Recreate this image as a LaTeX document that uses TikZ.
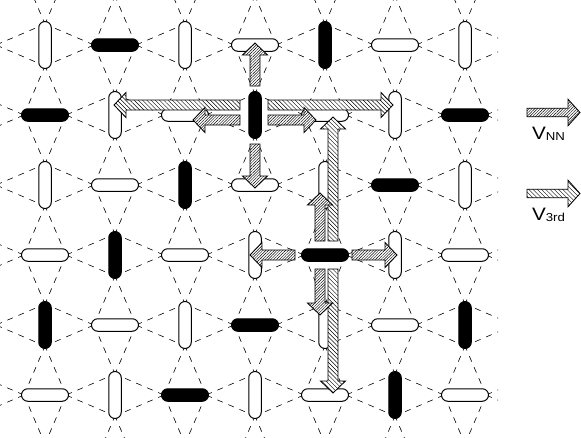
\documentclass[tikz,border=0pt]{standalone}
\usepackage{fontspec}
\setmainfont{Liberation Sans}
\usetikzlibrary{calc,patterns.meta}
\tikzset{
  lat/.style={dash pattern=on 6pt off 6pt, dash phase=1pt, line width=0.6pt, black},
  dimer/.style={draw, line width=1pt, inner sep=0pt, rounded corners=6.25pt},
  nnarrow/.style={preaction={fill=white}, draw, line width=0.85pt,
    pattern={Lines[angle=45,distance=2pt,line width=0.45pt]}},
  tdarrow/.style={preaction={fill=white}, draw, line width=0.85pt,
    pattern={Lines[angle=-45,distance=3pt,line width=0.45pt]}},
  lbl/.style={inner sep=0pt, anchor=base}
}
% #1 style, #2 start, #3 tip, #4 shaft half width, #5 head half width
\newcommand\blockarrow[5]{%
  \coordinate (bah) at ($(#3)!12pt!(#2)$);
  \path[#1] ($(#2)!#4!90:(#3)$) -- ($(bah)!#4!-90:(#2)$) -- ($(bah)!#5!-90:(#2)$)
    -- (#3) -- ($(bah)!#5!90:(#2)$) -- ($(bah)!#4!90:(#2)$) -- ($(#2)!#4!-90:(#3)$) -- cycle;
}
\begin{document}
\begin{tikzpicture}[x=1pt,y=-1pt]
\useasboundingbox (0,0) rectangle (581,437);
% sites (ends of dimers)
\foreach \r in {-1,...,8}{
  \foreach \c in {-1,...,9}{
    \pgfmathtruncatemacro\dpar{mod(\r+\c+4,2)}
    \pgfmathsetmacro\px{70*\c-25}
    \pgfmathsetmacro\py{70*\r-25}
    \ifnum\dpar=0
      \coordinate (s-\r-\c-a) at (\px,\py-21);
      \coordinate (s-\r-\c-b) at (\px,\py+21);
    \else
      \coordinate (s-\r-\c-a) at (\px-21,\py);
      \coordinate (s-\r-\c-b) at (\px+21,\py);
    \fi
  }}
% dashed lattice
\begin{scope}
\clip (0,0) rectangle (498,437);
\foreach \r in {0,...,7}{
  \foreach \c in {0,...,8}{
    \pgfmathtruncatemacro\dpar{mod(\r+\c,2)}
    \ifnum\dpar=0
      \pgfmathtruncatemacro\rU{\r-1}
      \pgfmathtruncatemacro\rD{\r+1}
      \pgfmathtruncatemacro\cL{\c-1}
      \pgfmathtruncatemacro\cR{\c+1}
      \draw[lat] (s-\r-\c-a) -- (s-\rU-\c-a) (s-\r-\c-a) -- (s-\rU-\c-b)
                 (s-\r-\c-a) -- (s-\r-\cL-b) (s-\r-\c-a) -- (s-\r-\cR-a)
                 (s-\r-\c-b) -- (s-\rD-\c-a) (s-\r-\c-b) -- (s-\rD-\c-b)
                 (s-\r-\c-b) -- (s-\r-\cL-b) (s-\r-\c-b) -- (s-\r-\cR-a);
    \fi
  }}
\end{scope}
% dimers
\foreach \r in {1,...,6}{
  \foreach \c in {1,...,7}{
    \pgfmathtruncatemacro\dpar{mod(\r+\c,2)}
    \pgfmathtruncatemacro\dblk{mod(\r+\c,3)}
    \ifnum\dpar=0 \def\dw{12.5pt}\def\dh{47pt}\else\def\dw{47pt}\def\dh{12.5pt}\fi
    \ifnum\dblk=0 \def\dfl{black}\else\def\dfl{white}\fi
    \node[dimer, minimum width=\dw, minimum height=\dh, fill=\dfl] (d-\r-\c) at (70*\c-25,70*\r-25) {};
  }}
% arrow end points
\coordinate (a3l-s) at (240,105); \coordinate (a3l-e) at (114,105);
\coordinate (a3r-s) at (268,105); \coordinate (a3r-e) at (393,105);
\coordinate (anl-s) at (240,120); \coordinate (anl-e) at (193,120);
\coordinate (anr-s) at (268,120); \coordinate (anr-e) at (316,120);
\coordinate (anu-s) at (255,86);  \coordinate (anu-e) at (255,43);
\coordinate (and-s) at (255,144); \coordinate (and-e) at (255,188);
\coordinate (b3u-s) at (333,241); \coordinate (b3u-e) at (333,117);
\coordinate (b3d-s) at (333,269); \coordinate (b3d-e) at (333,393);
\coordinate (bnu-s) at (320,241); \coordinate (bnu-e) at (320,193);
\coordinate (bnd-s) at (320,269); \coordinate (bnd-e) at (320,315);
\coordinate (bnl-s) at (295,255); \coordinate (bnl-e) at (250,255);
\coordinate (bnr-s) at (352,255); \coordinate (bnr-e) at (397,255);
% third-neighbour arrows
\blockarrow{tdarrow}{a3l-s}{a3l-e}{5pt}{12.5pt}
\blockarrow{tdarrow}{a3r-s}{a3r-e}{5pt}{12.5pt}
\blockarrow{tdarrow}{b3u-s}{b3u-e}{5pt}{12.5pt}
\blockarrow{tdarrow}{b3d-s}{b3d-e}{5pt}{12.5pt}
% nearest-neighbour arrows
\blockarrow{nnarrow}{anl-s}{anl-e}{5pt}{12.5pt}
\blockarrow{nnarrow}{anr-s}{anr-e}{5pt}{12.5pt}
\blockarrow{nnarrow}{anu-s}{anu-e}{5pt}{12.5pt}
\blockarrow{nnarrow}{and-s}{and-e}{5pt}{12.5pt}
\blockarrow{nnarrow}{bnu-s}{bnu-e}{5pt}{12.5pt}
\blockarrow{nnarrow}{bnd-s}{bnd-e}{5pt}{12.5pt}
\blockarrow{nnarrow}{bnl-s}{bnl-e}{5pt}{12.5pt}
\blockarrow{nnarrow}{bnr-s}{bnr-e}{5pt}{12.5pt}
% legend
\coordinate (lnn-s) at (527,112.5); \coordinate (lnn-e) at (580,112.5);
\coordinate (l3-s) at (527,193.5); \coordinate (l3-e) at (580,193.5);
\blockarrow{nnarrow}{lnn-s}{lnn-e}{4.3pt}{13.3pt}
\blockarrow{tdarrow}{l3-s}{l3-e}{4.3pt}{13.3pt}
\node[lbl] (lnn) at (548.5,139) {\scalebox{1.15}[1]{\fontsize{18}{18}\selectfont V\raisebox{-1.5pt}{\fontsize{11.5}{12}\selectfont NN}}};
\node[lbl] (l3) at (548.5,220) {\scalebox{1.15}[1]{\fontsize{18}{18}\selectfont V\raisebox{-1.5pt}{\fontsize{11.5}{12}\selectfont 3rd}}};
\end{tikzpicture}
\end{document}
